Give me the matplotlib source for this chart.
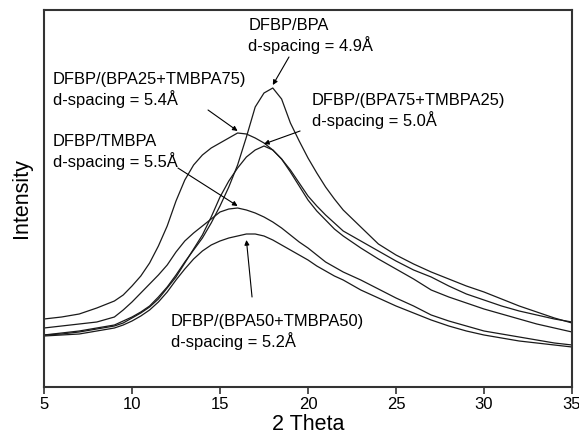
import matplotlib
matplotlib.use("Agg")
import matplotlib.pyplot as plt
import numpy as np

plt.rcParams['font.family'] = ['Liberation Sans', 'DejaVu Sans']

# Diffraction angle grid (degrees 2-theta): finer sampling around the halo
two_theta = ([5, 6, 7, 8]
             + [9, 9.5, 10, 10.5, 11, 11.5, 12, 12.5, 13, 13.5, 14, 14.5, 15, 15.5,
                16, 16.5, 17, 17.5, 18, 18.5, 19, 19.5, 20, 20.5, 21, 21.5, 22]
             + [23, 24, 25, 26, 27, 28, 29, 30, 31, 32, 33, 34, 35])

# Intensity profiles (arbitrary units)
dfbp_bpa = ([52, 54, 56, 59]
            + [62, 66, 70, 75, 81, 90, 100, 112, 125, 137, 149, 164, 181, 200,
               222, 250, 280, 294, 299, 288, 264, 246, 229, 214, 200, 188, 177]
            + [160, 143, 132, 123, 115, 108, 101, 95, 88, 81, 75, 69, 64])
dfbp_bpa25_tmbpa75 = ([68, 70, 73, 79]
                      + [86, 92, 101, 111, 124, 141, 161, 186, 207, 222, 232, 239, 244, 249,
                         254, 253, 249, 244, 237, 228, 217, 204, 191, 181, 172, 164, 156]
                      + [146, 136, 126, 117, 110, 101, 93, 87, 81, 76, 72, 68, 65])
dfbp_bpa75_tmbpa25 = ([52, 53, 55, 58]
                      + [61, 64, 69, 74, 80, 88, 99, 110, 124, 138, 152, 170, 190, 206,
                         219, 230, 237, 241, 237, 228, 215, 201, 187, 176, 167, 158, 151]
                      + [139, 128, 118, 108, 97, 90, 84, 78, 73, 68, 63, 59, 55])
dfbp_tmbpa = ([59, 61, 63, 65]
              + [70, 77, 85, 94, 103, 112, 122, 135, 146, 154, 161, 168, 175, 178,
                 179, 177, 174, 170, 165, 159, 152, 145, 139, 132, 125, 120, 115]
              + [107, 98, 89, 81, 72, 66, 61, 56, 53, 50, 47, 44, 42])
dfbp_bpa50_tmbpa50 = ([51, 52, 53, 56]
                      + [59, 62, 66, 71, 77, 85, 95, 107, 118, 128, 136, 142, 146, 149,
                         151, 153, 153, 151, 147, 142, 137, 132, 127, 121, 116, 111, 107]
                      + [97, 89, 81, 74, 67, 61, 56, 52, 49, 46, 44, 42, 40])

labels = [
    "DFBP/BPA\nd-spacing = 4.9Å",
    "DFBP/(BPA25+TMBPA75)\nd-spacing = 5.4Å",
    "DFBP/(BPA75+TMBPA25)\nd-spacing = 5.0Å",
    "DFBP/TMBPA\nd-spacing = 5.5Å",
    "DFBP/(BPA50+TMBPA50)\nd-spacing = 5.2Å",
]
series = [dfbp_bpa, dfbp_bpa25_tmbpa75, dfbp_bpa75_tmbpa25, dfbp_tmbpa, dfbp_bpa50_tmbpa50]

# label text anchor (left, vertical centre) and arrow tail, in data units
text_pos = [(16.6, 351), (5.5, 297), (20.2, 276), (5.5, 235), (12.2, 55)]
arrow_tail = [(18.92, 330), (14.32, 277), (19.55, 256), (12.61, 219), (16.82, 90)]
arrow_gap = [3, 2, 2, 2, -6]

fig = plt.figure(figsize=(5.79, 4.41), dpi=100)
ax = fig.add_axes([44 / 579, 1 - 387 / 441, (572 - 44) / 579, (387 - 10) / 441])

x = np.array(two_theta, dtype=float)
for ys, lab, tp, tail, gap in zip(series, labels, text_pos, arrow_tail, arrow_gap):
    ys = np.array(ys, dtype=float)
    ax.plot(x, ys, color='#1a1a1a', lw=0.9)
    ax.text(tp[0], tp[1], lab, ha='left', va='center', fontsize=11.9,
            linespacing=1.15, color='black')
    i = int(np.argmax(ys))
    ax.annotate('', xy=(x[i], ys[i] + gap), xytext=tail, textcoords='data',
                arrowprops=dict(arrowstyle='-|>', color='black', lw=0.8,
                                mutation_scale=7, shrinkA=0, shrinkB=0))

ax.set_xlim(5, 35)
ax.set_ylim(0, 377)
ax.set_xticks(range(5, 36, 5))
ax.set_yticks([])
ax.tick_params(axis='x', direction='out', length=5, width=1.2, colors='#333333',
               labelsize=12, labelcolor='black', pad=2)
for sp in ax.spines.values():
    sp.set_color('#333333')
    sp.set_linewidth(1.5)

ax.set_xlabel('2 Theta', fontsize=15.5, labelpad=2)
ax.set_ylabel('Intensity', fontsize=15.5, labelpad=9)

fig.savefig('out.png', dpi=100)
